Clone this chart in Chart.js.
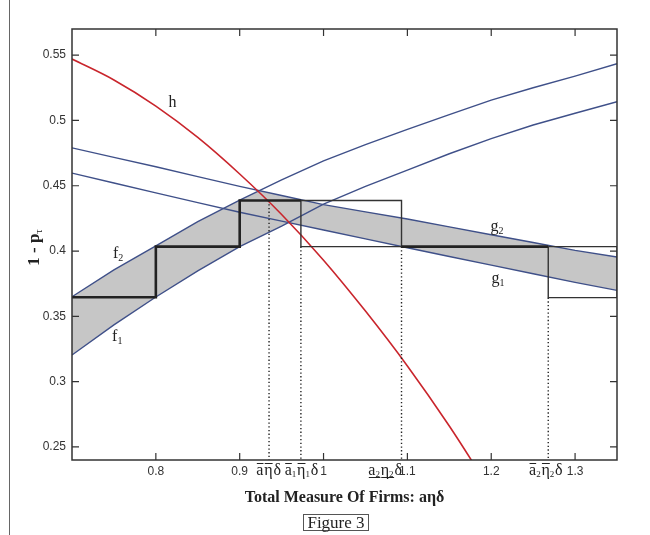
<!DOCTYPE html>
<html>
<head>
<meta charset="utf-8">
<script src="https://cdn.jsdelivr.net/npm/chart.js@4.4.1/dist/chart.umd.min.js"></script>
<style>
  body { margin: 0; background: #fff; }
  #wrap { position: relative; width: 650px; height: 535px; }
  #edge { position: absolute; left: 9px; top: 0; width: 1px; height: 535px; background: #666; }
  #fig { position: absolute; left: 303px; top: 514px; width: 64px; height: 15px;
         border: 1px solid #555; font: 17px "Liberation Serif", serif; line-height: 15px;
         text-align: center; color: #222; }
</style>
</head>
<body>
<div id="wrap">
  <canvas id="chart"></canvas>
  <div id="edge"></div>
  <div id="fig">Figure 3</div>
</div>
<script>
const xGrid = [0.70, 0.75, 0.80, 0.85, 0.90, 0.95, 1.00, 1.05, 1.10, 1.15, 1.20, 1.25, 1.30, 1.35];
const f1 = [0.3204, 0.3435, 0.3648, 0.3848, 0.4034, 0.4190, 0.4360, 0.4495, 0.4620, 0.4745, 0.4860, 0.4965, 0.5055, 0.5143];
const f2 = [0.3650, 0.3855, 0.4040, 0.4225, 0.4390, 0.4545, 0.4690, 0.4815, 0.4931, 0.5045, 0.5155, 0.5250, 0.5339, 0.5434];
const g1 = [0.4597, 0.4521, 0.4445, 0.4371, 0.4297, 0.4229, 0.4161, 0.4093, 0.4025, 0.3958, 0.3892, 0.3826, 0.3760, 0.3699];
const g2 = [0.4790, 0.4717, 0.4645, 0.4570, 0.4495, 0.4425, 0.4355, 0.4300, 0.4245, 0.4185, 0.4125, 0.4065, 0.4005, 0.3954];
const hX = [0.70, 0.75, 0.80, 0.85, 0.90, 0.95, 1.00, 1.05, 1.10, 1.15, 1.20];
const hY = [0.547, 0.531, 0.511, 0.487, 0.459, 0.428, 0.393, 0.354, 0.312, 0.266, 0.216];

// staircase and boxes
const stairX = [0.70, 0.80, 0.80, 0.90, 0.90, 0.973];
const stairY = [0.3646, 0.3646, 0.4034, 0.4034, 0.4387, 0.4387];
const stair2X = [1.093, 1.268];
const stair2Y = [0.4034, 0.4034];
const boxAX = [0.973, 1.093];
const boxAY = [0.4034, 0.4387];
const boxBX = [1.268, 1.35];
const boxBY = [0.3643, 0.4034];

// dotted markers on the x axis
const markX = [0.935, 0.973, 1.093, 1.268];
const markTop = [0.4387, 0.4034, 0.4034, 0.3643];
const markLabels = [
  [['a', 'over', ''], ['η', 'over', ''], ['δ', '', '']],
  [['a', 'over', '1'], ['η', 'over', '1'], ['δ', '', '']],
  [['a', 'under', '2'], ['η', 'under', '2'], ['δ', '', '']],
  [['a', 'over', '2'], ['η', 'over', '2'], ['δ', '', '']]
];
const markShift = [0, 1, -16, -2];

const xTicks = [0.8, 0.9, 1.0, 1.1, 1.2, 1.3];
const yTicks = [0.25, 0.30, 0.35, 0.40, 0.45, 0.50, 0.55];
const xMin = 0.70, xMax = 1.35, yMin = 0.24, yMax = 0.57;

// curve names
const nameText = ['h', 'f', 'f', 'g', 'g'];
const nameSub = ['', '2', '1', '2', '1'];
const nameX = [0.82, 0.755, 0.754, 1.207, 1.208];
const nameY = [0.513, 0.398, 0.3345, 0.4187, 0.3789];

const BLUE = '#3f5089', RED = '#c9252c', INK = '#222';

function pts(xs, ys) { return xs.map((x, i) => ({ x: x, y: ys[i] })); }

function box(xs, ys) {
  return pts([xs[0], xs[1], xs[1], xs[0], xs[0]], [ys[1], ys[1], ys[0], ys[0], ys[1]]);
}

// lower of two curves, with the crossing point added
function envelope(a, b) {
  const out = [];
  for (let i = 0; i < xGrid.length; i++) {
    out.push({ x: xGrid[i], y: Math.min(a[i], b[i]) });
    if (i < xGrid.length - 1) {
      const d0 = a[i] - b[i], d1 = a[i + 1] - b[i + 1];
      if (d0 * d1 < 0) {
        const t = d0 / (d0 - d1);
        out.push({ x: xGrid[i] + t * (xGrid[i + 1] - xGrid[i]), y: a[i] + t * (a[i + 1] - a[i]) });
      }
    }
  }
  return out;
}

function line(data, color, width, extra) {
  return Object.assign({ data: data, borderColor: color, borderWidth: width, fill: false }, extra || {});
}

const fmt = v => String(+v.toFixed(3));

function drawMarkLabel(ctx, tokens, cx, base) {
  const main = '16px "Liberation Serif"', small = '9px "Liberation Serif"';
  let total = 0;
  const sizes = tokens.map(([c, bar, sub]) => {
    ctx.font = main;
    const wc = ctx.measureText(c).width;
    ctx.font = small;
    const ws = sub ? ctx.measureText(sub).width : 0;
    total += wc + ws + 0.8;
    return [wc, ws];
  });
  let px = cx - total / 2;
  tokens.forEach(([c, bar, sub], i) => {
    const [wc, ws] = sizes[i];
    ctx.font = main;
    ctx.fillText(c, px, base);
    if (bar === 'over') ctx.fillRect(px + 0.5, base - 11.5, wc - 0.5, 1);
    if (bar === 'under') ctx.fillRect(px + 0.5, base + 2.5, wc + ws, 1);
    if (sub) { ctx.font = small; ctx.fillText(sub, px + wc, base + 2.5); }
    px += wc + ws + 0.8;
  });
}

const decor = {
  id: 'decor',
  afterDatasetsDraw(chart) {
    const { ctx, chartArea: a, scales: { x, y } } = chart;
    ctx.save();
    ctx.strokeStyle = '#333';
    ctx.lineWidth = 1.5;
    ctx.strokeRect(a.left, a.top, a.right - a.left, a.bottom - a.top);
    ctx.lineWidth = 1.2;
    ctx.beginPath();
    xTicks.forEach(v => {
      const p = x.getPixelForValue(v);
      ctx.moveTo(p, a.bottom); ctx.lineTo(p, a.bottom - 7);
      ctx.moveTo(p, a.top); ctx.lineTo(p, a.top + 7);
    });
    yTicks.forEach(v => {
      const p = y.getPixelForValue(v);
      ctx.moveTo(a.left, p); ctx.lineTo(a.left + 7, p);
      ctx.moveTo(a.right, p); ctx.lineTo(a.right - 7, p);
    });
    ctx.stroke();

    ctx.fillStyle = INK;
    ctx.textBaseline = 'alphabetic';
    ctx.textAlign = 'left';
    nameText.forEach((n, i) => {
      ctx.font = '16px "Liberation Serif"';
      const w = ctx.measureText(n).width;
      ctx.font = '10px "Liberation Serif"';
      const ws = nameSub[i] ? ctx.measureText(nameSub[i]).width : 0;
      const px = x.getPixelForValue(nameX[i]) - (w + ws) / 2;
      const py = y.getPixelForValue(nameY[i]) + 4;
      ctx.font = '16px "Liberation Serif"';
      ctx.fillText(n, px, py);
      if (nameSub[i]) { ctx.font = '10px "Liberation Serif"'; ctx.fillText(nameSub[i], px + w, py + 3); }
    });

    markLabels.forEach((tokens, i) => {
      drawMarkLabel(ctx, tokens, x.getPixelForValue(markX[i]) + markShift[i], a.bottom + 14.5);
    });

    // y axis title 1 - p_tau
    ctx.translate(33, (a.top + a.bottom) / 2 + 3);
    ctx.rotate(-Math.PI / 2);
    ctx.font = 'bold 17px "Liberation Serif"';
    const w1 = ctx.measureText('1 - p').width;
    ctx.font = '11px "Liberation Serif"';
    const w2 = ctx.measureText('τ').width;
    const s = -(w1 + w2) / 2;
    ctx.font = 'bold 17px "Liberation Serif"';
    ctx.fillText('1 - p', s, 5.5);
    ctx.font = '11px "Liberation Serif"';
    ctx.fillText('τ', s + w1, 9);
    ctx.restore();
  }
};

const datasets = [
  line(pts(stairX, stairY), INK, 2.6),
  line(pts(stair2X, stair2Y), INK, 2.6),
  line(box(boxAX, boxAY), '#333', 1.4),
  line(box(boxBX, boxBY), '#333', 1.4)
];
markX.forEach((m, i) => {
  datasets.push(line(pts([m, m], [markTop[i], yMin]), INK, 1.4, { borderDash: [1.3, 2.4] }));
});
datasets.push(line(pts(hX, hY), RED, 1.6, { cubicInterpolationMode: 'monotone' }));
datasets.push(line(pts(xGrid, f1), BLUE, 1.4));
datasets.push(line(pts(xGrid, f2), BLUE, 1.4));
datasets.push(line(pts(xGrid, g1), BLUE, 1.4));
datasets.push(line(pts(xGrid, g2), BLUE, 1.4));
datasets.push({ data: envelope(f2, g2), borderWidth: 0, borderColor: 'rgba(0,0,0,0)', backgroundColor: '#c6c6c6', fill: '+1' });
datasets.push({ data: envelope(f1, g1), borderWidth: 0, borderColor: 'rgba(0,0,0,0)', fill: false });

const tickFont = { family: '"Liberation Sans", Arial, sans-serif', size: 12 };

new Chart(document.getElementById('chart'), {
  type: 'line',
  data: { datasets: datasets },
  options: {
    responsive: true,
    maintainAspectRatio: false,
    animation: false,
    layout: { padding: { top: 29, right: 33, left: 0, bottom: 0 } },
    elements: { point: { radius: 0 }, line: { tension: 0 } },
    plugins: {
      legend: { display: false },
      tooltip: { enabled: false },
      filler: { drawTime: 'beforeDatasetsDraw' }
    },
    scales: {
      x: {
        type: 'linear', min: xMin, max: xMax,
        afterBuildTicks: s => { s.ticks = xTicks.map(v => ({ value: v })); },
        afterFit: s => { s.height = 75; },
        grid: { display: false, drawTicks: false },
        border: { display: false },
        ticks: { padding: 4, color: '#333', font: tickFont, autoSkip: false, maxRotation: 0, callback: fmt },
        title: {
          display: true, text: 'Total Measure Of Firms: aηδ', color: INK,
          font: { family: '"Liberation Serif", serif', size: 16, weight: 'bold' },
          padding: { top: 0, bottom: 28 }
        }
      },
      y: {
        type: 'linear', min: yMin, max: yMax,
        afterBuildTicks: s => { s.ticks = yTicks.map(v => ({ value: v })); },
        afterFit: s => { s.width = 72; },
        grid: { display: false, drawTicks: false },
        border: { display: false },
        ticks: { padding: 6, color: '#333', font: tickFont, callback: fmt }
      }
    }
  },
  plugins: [decor]
});
</script>
</body>
</html>
